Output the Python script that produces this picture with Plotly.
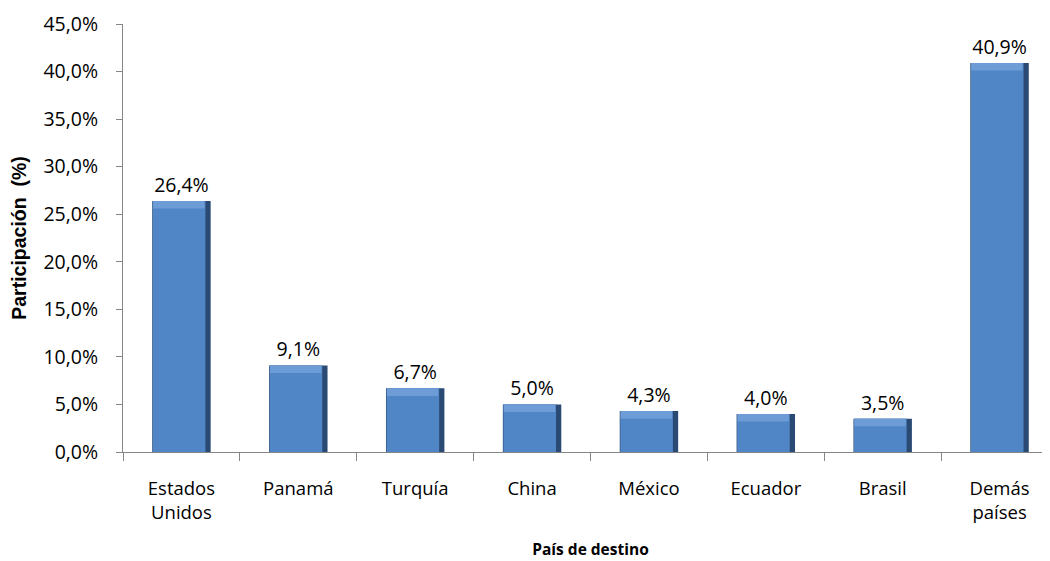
import plotly.graph_objects as go

categories = ["Estados<br>Unidos", "Panamá", "Turquía", "China", "México", "Ecuador", "Brasil", "Demás<br>países"]
values = [0.264, 0.091, 0.067, 0.050, 0.043, 0.040, 0.035, 0.409]
y_ticks = [0.0, 0.05, 0.10, 0.15, 0.20, 0.25, 0.30, 0.35, 0.40, 0.45]

FONT = "Open Sans"
FS_CAT = 18.5
FS_NUM = 19.5
BEVEL = 0.008

fig = go.Figure()
# dark body (shadowed edges)
fig.add_trace(go.Bar(
    x=categories, y=values, width=0.5, offset=-0.25,
    marker=dict(color="#2A4A73", line=dict(width=0)),
    text=values, texttemplate="%{text:.1%}", textposition="outside",
    textfont=dict(family=FONT, size=FS_NUM, color="#000000"),
    cliponaxis=False, hoverinfo="skip",
))
# main face
fig.add_trace(go.Bar(
    x=categories, y=values, width=0.45, offset=-0.245,
    marker=dict(color="#5085C6", line=dict(width=0)),
    hoverinfo="skip",
))
# top bevel highlight
fig.add_trace(go.Bar(
    x=categories, y=[BEVEL] * len(values), base=[v - BEVEL for v in values],
    width=0.44, offset=-0.242,
    marker=dict(color="#6E9CD6", line=dict(width=0)),
    hoverinfo="skip",
))

fig.update_layout(
    width=1050,
    height=561,
    barmode="overlay",
    separators=",.",
    paper_bgcolor="white",
    plot_bgcolor="white",
    margin=dict(l=115, r=0, t=16, b=117),
    showlegend=False,
    font=dict(family=FONT, color="#000000"),
    xaxis=dict(
        type="category",
        range=[-0.5, 7.5],
        automargin=False,
        showline=True,
        linecolor="#868686",
        linewidth=1,
        ticks="outside",
        tickson="boundaries",
        ticklen=8,
        tickcolor="#868686",
        ticklabelstandoff=20,
        tickfont=dict(family=FONT, size=FS_CAT, color="#000000"),
        showgrid=False,
        title=dict(text="<b>País de destino</b>", font=dict(family=FONT, size=15.5, color="#000000"), standoff=20),
    ),
    yaxis=dict(
        range=[0, 0.45],
        automargin=False,
        tickvals=y_ticks,
        tickformat=".1%",
        showline=True,
        linecolor="#868686",
        linewidth=1,
        ticks="outside",
        ticklen=6,
        tickcolor="#868686",
        ticklabelstandoff=14,
        tickfont=dict(family=FONT, size=FS_NUM, color="#000000"),
        showgrid=False,
        zeroline=False,
        title=dict(text="<b>Participación  (%)</b>", font=dict(family="Liberation Sans", size=19.5, color="#000000"), standoff=24),
    ),
)

fig.write_html("out.html")
